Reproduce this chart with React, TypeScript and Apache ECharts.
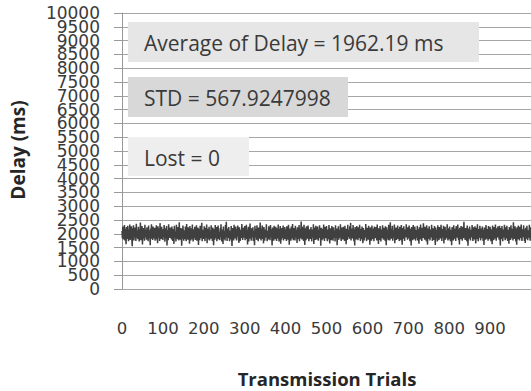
import React, { useEffect, useRef } from "react";
import * as echarts from "echarts";

// Delay (ms) per transmission trial (trials 0-999)
const delaysA = [
  2105, 1843, 2267, 1796, 2012, 1934, 2318, 1757, 2181, 1889, 1620, 2243, 1968, 1812, 2290, 2047, 1735, 2156, 1901, 2334,
  1778, 2089, 1956, 2271, 1824, 1549, 2198, 1917, 2306, 1762, 2040, 1873, 2225, 1990, 1741, 2362, 1858, 2119, 1930, 1805,
  2254, 1983, 1726, 2167, 1895, 2412, 1769, 2031, 1944, 2283, 1611, 2078, 1837, 2209, 1962, 1753, 2327, 1880, 2146, 1999,
  1788, 2236, 1915, 2059, 1730, 2298, 1852, 2125, 1976, 1587, 2187, 1816, 2341, 1949, 2070, 1775, 2262, 1908, 2013, 1832,
  2219, 1747, 2135, 1961, 2305, 1798, 2048, 1659, 2274, 1927, 1863, 2193, 1738, 2386, 1891, 2024, 1806, 2251, 1938, 2162,
  1772, 2093, 1886, 2317, 1954, 1716, 2204, 2057, 1829, 2279, 1575, 1997, 2140, 1764, 2348, 1910, 2035, 1847, 2231, 1968,
  2116, 1793, 2260, 1921, 1741, 2174, 2008, 1634, 2295, 1866, 2083, 1957, 1724, 2329, 1879, 2151, 1806, 2247, 1985, 1760,
  2422, 1898, 2063, 1784, 2212, 1940, 1568, 2186, 1831, 2302, 1973, 1749, 2127, 2044, 1817, 2266, 1906, 1733, 2353, 1952,
  2019, 1786, 2240, 1867, 2108, 1642, 2284, 1923, 1758, 2197, 2066, 1801, 2335, 1937, 1721, 2163, 1994, 1855, 2258, 1776,
  2130, 1914, 2312, 1745, 2052, 1876, 2223, 1595, 2171, 1980, 1767, 2290, 1841, 2097, 1963, 2399, 1729, 2145, 1893, 2028,
];
const delaysB = [
  1812, 2276, 1948, 1736, 2214, 2081, 1861, 2339, 1657, 2003, 1790, 2185, 1926, 2257, 1754, 2122, 1985, 1820, 2308, 1909,
  2064, 1743, 2229, 1898, 1582, 2172, 2011, 1783, 2321, 1955, 1848, 2249, 1727, 2137, 1972, 2296, 1805, 2074, 1931, 1766,
  2201, 1888, 2345, 1952, 1719, 2158, 2037, 1629, 2268, 1813, 2099, 1945, 1762, 2317, 1875, 2432, 1998, 1740, 2190, 1917,
  1853, 2243, 1977, 1731, 2110, 2015, 1798, 2286, 1906, 1561, 2206, 1869, 2056, 1761, 2331, 1939, 2128, 1827, 2263, 1982,
  1756, 2177, 1901, 2301, 2042, 1815, 1673, 2234, 1962, 1738, 2148, 2087, 1846, 2357, 1924, 1774, 2216, 1993, 1858, 2117,
  2282, 1769, 2060, 1935, 2325, 1808, 2143, 1613, 1987, 2254, 1725, 2096, 1912, 2370, 1834, 2026, 1752, 2198, 1969, 1882,
  2237, 1744, 2105, 1953, 1590, 2289, 1866, 2170, 2001, 1781, 2313, 1918, 2047, 1733, 2226, 1975, 1820, 2139, 2407, 1897,
  1762, 2182, 1940, 2299, 1811, 2071, 1654, 2247, 1926, 1750, 2154, 2009, 1870, 2342, 1957, 1728, 2113, 2038, 1793, 2270,
  1932, 2086, 1771, 2319, 1887, 2163, 1967, 1577, 2231, 1845, 2019, 1746, 2292, 1913, 2124, 1801, 2258, 1988, 1737, 2196,
  2054, 1829, 2338, 1949, 1723, 2175, 1892, 2280, 1638, 2043, 1786, 2213, 1974, 1851, 2304, 1758, 2093, 1934, 2245, 1816,
];
const delaysC = [
  2160, 1994, 1739, 2271, 1903, 2066, 1782, 2324, 1960, 1603, 2189, 1873, 2118, 1748, 2261, 2015, 1836, 2352, 1922, 1771,
  2208, 1941, 2079, 1757, 2287, 1864, 2145, 1998, 1669, 2236, 1807, 2033, 1927, 2315, 1732, 2180, 1969, 1843, 2444, 2058,
  1792, 2256, 1915, 2101, 1744, 2329, 1883, 1598, 2199, 2022, 1767, 2275, 1946, 2131, 1819, 2300, 1958, 1735, 2167, 1899,
  2049, 1813, 2242, 1976, 1727, 2157, 2004, 1861, 2343, 1628, 2085, 1908, 2223, 1778, 2293, 1933, 2112, 1795, 2264, 1986,
  1749, 2134, 1920, 2310, 1852, 2072, 1571, 2218, 1965, 1764, 2183, 2041, 1826, 2336, 1895, 1741, 2250, 1979, 2108, 1838,
  2278, 1955, 1733, 2151, 2026, 1808, 2322, 1884, 1646, 2204, 1937, 2091, 1770, 2283, 1916, 2166, 1753, 2240, 1991, 1860,
  2121, 1726, 2306, 1971, 1842, 2195, 1588, 2063, 1928, 2269, 1787, 2139, 2012, 1855, 2347, 1904, 1738, 2228, 1962, 2081,
  1797, 2253, 1942, 2107, 1743, 2288, 1872, 2016, 1619, 2178, 1950, 1775, 2326, 1889, 2149, 2000, 1818, 2272, 1929, 2395,
  1760, 2192, 1910, 2038, 1829, 2316, 1964, 1730, 2165, 1578, 2244, 1880, 2097, 1793, 2281, 1948, 2123, 1766, 2237, 2008,
  1850, 2330, 1919, 1744, 2186, 2051, 1806, 2267, 1936, 1662, 2209, 1989, 1756, 2141, 2074, 1868, 2354, 1901, 1737, 2220,
];
const delaysD = [
  1983, 2115, 1789, 2294, 1925, 2057, 1600, 2232, 1877, 2169, 1751, 2303, 1957, 1815, 2187, 2027, 1732, 2262, 1911, 2093,
  1839, 2248, 1973, 1759, 2340, 1894, 2129, 1634, 2196, 2010, 1780, 2279, 1943, 1722, 2156, 2067, 1854, 2312, 1968, 1790,
  2214, 1906, 2089, 1747, 2273, 1996, 1585, 2240, 1832, 2145, 1961, 1769, 2328, 1888, 2034, 1755, 2415, 1930, 2176, 1821,
  2007, 2287, 1748, 2132, 1918, 1862, 2339, 1658, 2098, 1950, 2226, 1779, 2061, 1924, 2297, 1810, 2170, 1985, 1736, 2255,
  1897, 2046, 1768, 2318, 1940, 1603, 2205, 2082, 1826, 2271, 1959, 1741, 2159, 2019, 1873, 2349, 1908, 2114, 1784, 2238,
  1977, 1835, 2300, 1921, 1729, 2181, 2055, 1574, 2249, 1887, 2110, 1763, 2322, 1946, 2076, 1801, 2267, 1993, 1752, 2140,
  2036, 1859, 2290, 1754, 2168, 1932, 1641, 2234, 2003, 1796, 2337, 1879, 2104, 1742, 2217, 1966, 1846, 2381, 1915, 2068,
  1786, 2258, 1953, 2124, 1734, 2306, 1900, 1609, 2188, 2029, 1817, 2276, 1938, 1760, 2153, 2088, 1869, 2325, 1978, 1745,
  2199, 1909, 2043, 1777, 2283, 1958, 1592, 2227, 1843, 2136, 1990, 1725, 2313, 1902, 2065, 1772, 2246, 1972, 2117, 1828,
  2331, 1947, 1739, 2172, 2018, 1865, 2295, 1645, 2080, 1934, 2257, 1783, 2126, 1995, 1850, 2344, 1913, 1757, 2203, 2052,
];
const delaysE = [
  1807, 2265, 1967, 1731, 2146, 2037, 1586, 2241, 1891, 2100, 1759, 2309, 1944, 1823, 2184, 2014, 1740, 2277, 1927, 2090,
  1863, 2332, 1951, 1765, 2161, 1616, 2220, 2000, 1804, 2285, 1937, 2074, 1746, 2251, 1981, 1839, 2437, 1899, 2133, 1773,
  2211, 1960, 2040, 1727, 2298, 1885, 1567, 2193, 2061, 1819, 2263, 1941, 1756, 2150, 2023, 1876, 2319, 1914, 1738, 2235,
  1987, 2102, 1794, 2274, 1926, 1653, 2215, 2046, 1812, 2341, 1955, 1733, 2177, 2085, 1858, 2292, 1922, 1763, 2190, 2017,
  1848, 2260, 1974, 1744, 2138, 1597, 2229, 1905, 2069, 1787, 2316, 1949, 1824, 2173, 2032, 1752, 2282, 1938, 2111, 1800,
  2252, 1979, 1735, 2164, 2009, 1626, 2303, 1893, 2095, 1770, 2244, 1963, 1837, 2335, 1917, 1748, 2197, 2053, 1866, 2268,
  1940, 2120, 1782, 2294, 1928, 1580, 2212, 2026, 1809, 2279, 1952, 1728, 2155, 2078, 1871, 2327, 1903, 1766, 2232, 1996,
  1832, 2289, 1957, 1741, 2143, 2064, 1637, 2248, 1911, 2105, 1776, 2311, 1970, 1845, 2186, 2020, 1758, 2421, 1934, 2087,
  1815, 2270, 1948, 1723, 2178, 1602, 2236, 2006, 1797, 2299, 1931, 2071, 1754, 2259, 1989, 1853, 2340, 1920, 1743, 2168,
  2033, 1880, 2305, 1967, 1737, 2152, 1664, 2218, 2045, 1822, 2287, 1944, 1771, 2132, 2091, 1862, 2324, 1909, 1750, 2240,
];

// Axis ranges
const yMin = 0;
const yMax = 10000;
const yStep = 500;
const yLabelStep = 1000; // labels are drawn by two interleaved axes, every 1000 each
const xMin = 0;
const xMax = 1000;
const xStep = 100;
const xLastLabel = 900;

// Annotation texts
const statTexts = ["Average of Delay = 1962.19 ms", "STD = 567.9247998", "Lost = 0"];
const xTitle = "Transmission Trials";
const yTitle = "Delay (ms)";

export default function App() {
  const ref = useRef<HTMLDivElement>(null);

  useEffect(() => {
    if (!ref.current) return;
    const chart = echarts.init(ref.current, undefined, { renderer: "svg" });
    const delays = [...delaysA, ...delaysB, ...delaysC, ...delaysD, ...delaysE];
    const seriesData = delays.map((v, i) => [i, v]);

    const W = 531;
    const H = 391;
    const gridTop = 13;
    const gridBottom = 102;
    const plotH = H - gridTop - gridBottom;
    const halfStepPx = (plotH * yStep) / (yMax - yMin);

    const boxes = [
      { x: 128, y: 22, w: 351, h: 40, fill: "#e6e6e6" },
      { x: 128, y: 77, w: 220, h: 40, fill: "#d8d8d8" },
      { x: 128, y: 137, w: 121, h: 39, fill: "#eeeeee" },
    ];
    const graphic: any[] = [];
    boxes.forEach((b, i) => {
      graphic.push({
        type: "rect",
        z: 50,
        shape: { x: b.x, y: b.y, width: b.w, height: b.h },
        style: { fill: b.fill },
      });
      graphic.push({
        type: "text",
        z: 51,
        x: 144,
        y: b.y + b.h / 2 + 1,
        style: {
          text: statTexts[i],
          fill: "#3a3a3a",
          font: '21px "Open Sans", sans-serif',
          textAlign: "left",
          textVerticalAlign: "middle",
        },
      });
    });
    graphic.push({
      type: "text",
      x: 327,
      y: 378,
      style: {
        text: xTitle,
        fill: "#262626",
        font: 'bold 18.5px "Open Sans", sans-serif',
        textAlign: "center",
        textVerticalAlign: "middle",
      },
    });
    graphic.push({
      type: "text",
      x: 18,
      y: 150,
      rotation: Math.PI / 2,
      style: {
        text: yTitle,
        fill: "#262626",
        font: 'bold 19px "Open Sans", sans-serif',
        textAlign: "center",
        textVerticalAlign: "middle",
      },
    });

    const labelStyle = {
      margin: 22,
      color: "#3a3a3a",
      fontFamily: "DejaVu Sans",
      fontSize: 17,
    };

    chart.setOption({
      animation: false,
      backgroundColor: "#ffffff",
      grid: [
        { left: 122, right: 0, top: gridTop, bottom: gridBottom, containLabel: false },
        {
          left: 122,
          right: 0,
          top: gridTop + halfStepPx,
          bottom: gridBottom + halfStepPx,
          containLabel: false,
        },
      ],
      xAxis: [
        {
          type: "value",
          gridIndex: 0,
          min: xMin,
          max: xMax,
          interval: xStep,
          axisLine: { show: true, lineStyle: { color: "#a6a6a6", width: 1 } },
          axisTick: { show: false },
          splitLine: { show: false },
          axisLabel: {
            margin: 31,
            color: "#3a3a3a",
            fontFamily: "DejaVu Sans",
            fontSize: 16.5,
            showMaxLabel: false,
            formatter: (v: number) => (v > xLastLabel ? "" : String(v)),
          },
        },
        { type: "value", gridIndex: 1, min: xMin, max: xMax, show: false },
      ],
      yAxis: [
        {
          type: "value",
          gridIndex: 0,
          min: yMin,
          max: yMax,
          interval: yStep,
          axisLine: { show: true, lineStyle: { color: "#999999", width: 1 } },
          axisTick: { show: true, length: 8, lineStyle: { color: "#999999" } },
          splitLine: { show: true, lineStyle: { color: "#a6a6a6", width: 1 } },
          axisLabel: {
            ...labelStyle,
            showMinLabel: true,
            showMaxLabel: true,
            formatter: (v: number) => (v % yLabelStep === 0 ? String(v) : ""),
          },
        },
        {
          type: "value",
          gridIndex: 1,
          min: yMin + yStep,
          max: yMax - yStep,
          interval: yLabelStep,
          axisLine: { show: false },
          axisTick: { show: false },
          splitLine: { show: false },
          axisLabel: {
            ...labelStyle,
            showMinLabel: true,
            showMaxLabel: true,
            formatter: (v: number) => String(v),
          },
        },
      ],
      series: [
        {
          type: "line",
          xAxisIndex: 0,
          yAxisIndex: 0,
          data: seriesData,
          showSymbol: false,
          symbol: "none",
          lineStyle: { color: "#404040", width: 1.5 },
          z: 3,
        },
      ],
      graphic,
    });

    return () => chart.dispose();
  }, []);

  return <div ref={ref} style={{ width: 531, height: 391, position: "absolute", left: 0, top: 0 }} />;
}
